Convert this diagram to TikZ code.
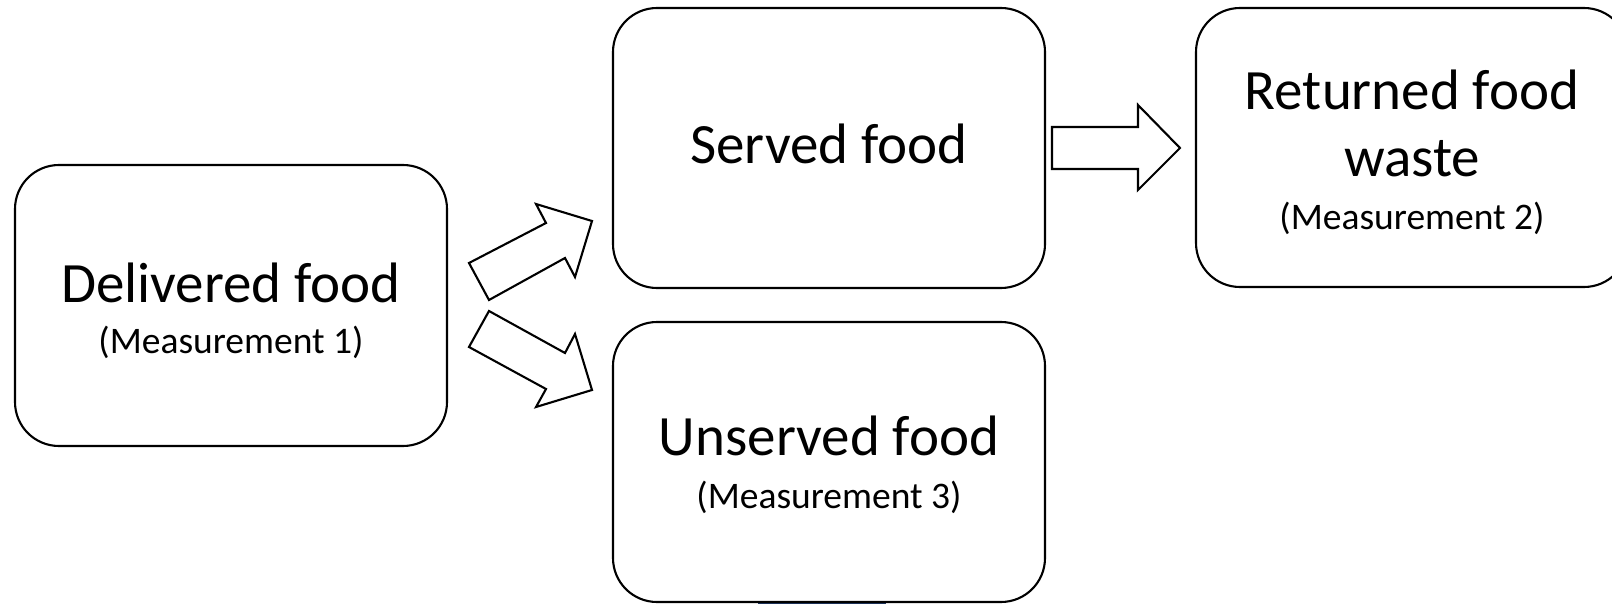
\documentclass[tikz,border=0pt]{standalone}
\usepackage{fontspec}
\setmainfont{Carlito}
\begin{document}
\begin{tikzpicture}[x=1pt,y=-1pt,
  box/.style={draw=black,line width=2.1pt,rounded corners=44pt,fill=white},
  big/.style={font=\fontsize{57}{60}\selectfont,anchor=base,inner sep=0pt},
  small/.style={font=\fontsize{37.5}{40}\selectfont,anchor=base,inner sep=0pt},
  blockarrow/.style={draw=black,line width=2.1pt,fill=white,line join=miter}]
\useasboundingbox (0,0) rectangle (1612,604);
\definecolor{navy}{RGB}{31,56,100}
\fill[navy] (758,601) rectangle (886,604);
% boxes
\draw[box] (15,165) rectangle (447,446);
\draw[box] (613,8) rectangle (1045,288);
\draw[box] (613,322) rectangle (1045,602);
\draw[box] (1196,8) rectangle (1628,287);
% texts
\node[big] (t1) at (231,302) {Delivered food};
\node[small] (m1) at (231,353) {(Measurement 1)};
\node[big] (t2) at (829,164) {Served food};
\node[big] (t3) at (829,455) {Unserved food};
\node[small] (m3) at (829,508) {(Measurement 3)};
\node[big] (t4) at (1412,110) {Returned food};
\node[big] (t4b) at (1412,177) {waste};
\node[small] (m2) at (1412,230) {(Measurement 2)};
% block arrows
\draw[blockarrow] (469,263) -- (546,223) -- (536,204) -- (592,221) -- (575,277) -- (565,258) -- (489,300) -- cycle;
\draw[blockarrow] (489,311) -- (565,353) -- (575,334) -- (592,390) -- (536,407) -- (546,389) -- (469,347) -- cycle;
\draw[blockarrow] (1052,127) -- (1138,127) -- (1138,105) -- (1180,148) -- (1138,190) -- (1138,169) -- (1052,169) -- cycle;
\end{tikzpicture}
\end{document}
